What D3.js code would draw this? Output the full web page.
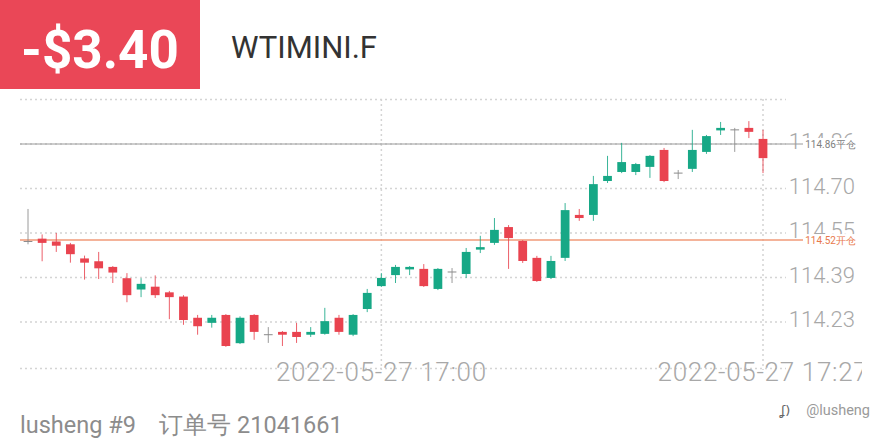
<!DOCTYPE html>
<html><head><meta charset="utf-8">
<script src="https://cdn.jsdelivr.net/npm/d3@7/dist/d3.min.js"></script>
<style>html,body{margin:0;padding:0;background:#fff;} svg{display:block;}</style>
</head><body><svg id="c" width="880" height="440"></svg>
<script>
// ---- data ----
const times = ["16:35","16:36","16:37","16:38","16:39","16:40","16:41","16:42","16:43","16:44",
  "16:45","16:46","16:47","16:48","16:49","16:50","16:51","16:52","16:53","16:54",
  "16:55","16:56","16:57","16:58","16:59","17:00","17:01","17:02","17:03","17:04",
  "17:05","17:06","17:07","17:08","17:09","17:10","17:11","17:12","17:13","17:14",
  "17:15","17:16","17:17","17:18","17:19","17:20","17:21","17:22","17:23","17:24",
  "17:25","17:26","17:27"];
const opens  = [114.515,114.525,114.515,114.505,114.455,114.445,114.425,114.385,114.345,114.355,
  114.335,114.320,114.245,114.227,114.255,114.155,114.255,114.185,114.195,114.195,
  114.185,114.188,114.245,114.185,114.276,114.357,114.396,114.418,114.418,114.347,
  114.407,114.400,114.488,114.510,114.566,114.517,114.457,114.386,114.457,114.609,
  114.609,114.729,114.761,114.761,114.779,114.839,114.757,114.772,114.832,114.910,
  114.910,114.917,114.878];
const highs  = [114.630,114.540,114.545,114.510,114.465,114.478,114.428,114.403,114.385,114.395,
  114.340,114.325,114.255,114.255,114.258,114.250,114.258,114.212,114.198,114.227,
  114.212,114.280,114.255,114.258,114.347,114.403,114.432,114.428,114.435,114.421,
  114.421,114.492,114.535,114.598,114.573,114.520,114.464,114.464,114.651,114.630,
  114.747,114.818,114.864,114.793,114.821,114.846,114.768,114.910,114.892,114.938,
  114.917,114.941,114.910];
const lows   = [114.505,114.445,114.478,114.440,114.380,114.382,114.368,114.300,114.318,114.315,
  114.240,114.220,114.185,114.210,114.142,114.152,114.167,114.156,114.145,114.156,
  114.177,114.185,114.185,114.180,114.265,114.354,114.368,114.396,114.354,114.343,
  114.368,114.386,114.474,114.503,114.418,114.439,114.372,114.382,114.446,114.588,
  114.588,114.722,114.757,114.750,114.740,114.725,114.736,114.761,114.825,114.892,
  114.832,114.881,114.757];
const closes = [114.515,114.510,114.500,114.470,114.440,114.420,114.405,114.325,114.365,114.325,
  114.318,114.237,114.215,114.245,114.145,114.245,114.195,114.185,114.185,114.177,
  114.195,114.233,114.195,114.255,114.333,114.386,114.425,114.425,114.357,114.418,
  114.407,114.478,114.495,114.556,114.527,114.446,114.375,114.446,114.626,114.598,
  114.718,114.747,114.796,114.789,114.818,114.729,114.757,114.839,114.888,114.917,
  114.910,114.903,114.810];
const gridValues = [115.0175,114.86,114.7025,114.545,114.3875,114.23,114.065];
const gridLabels = ["","114.86","114.70","114.55","114.39","114.23",""];
const xTickTimes = ["17:00","17:27"];
const xTickLabels = ["2022-05-27 17:00","2022-05-27 17:27"];
const closePrice = 114.86, closeTag = "114.86平仓";
const openPrice = 114.52, openTag = "114.52开仓";
const pnlText = "-$3.40", symbol = "WTIMINI.F";
const footer = "lusheng #9    订单号 21041661", watermark = "@lusheng";

// ---- drawing ----
const RED = "#e9434f", GREEN = "#17a886", GRAY = "#8a8a8a";
const svg = d3.select("#c");
const x = d3.scalePoint().domain(times).range([28, 763]);
const y = d3.scaleLinear().domain([114.0725, 115.0175]).range([366.5, 99.5]);
const bodyW = x.step() * 0.62;

// header
svg.append("rect").attr("x",0).attr("y",0).attr("width",200).attr("height",89).attr("fill","#ea4757");
svg.append("text").attr("x",100).attr("y",68).attr("text-anchor","middle")
  .attr("font-family","Roboto").attr("font-weight",700).attr("font-size",53).attr("fill","#fff").text(pnlText);
svg.append("text").attr("x",231).attr("y",58)
  .attr("font-family","Roboto").attr("font-size",31).attr("fill","#333").text(symbol);

// grid
const grid = svg.append("g").attr("stroke","#d4d4d4").attr("stroke-width",1.5).attr("stroke-dasharray","2,3");
grid.selectAll("line.h").data(gridValues).join("line").attr("class","h")
  .attr("x1",20).attr("x2",786).attr("y1",d=>y(d)).attr("y2",d=>y(d));
grid.selectAll("line.v").data(xTickTimes).join("line").attr("class","v")
  .attr("x1",d=>x(d)).attr("x2",d=>x(d)).attr("y1",99).attr("y2",370);

// y labels
svg.append("g").selectAll("text").data(gridValues).join("text")
  .attr("x",855).attr("y",d=>y(d)+5).attr("text-anchor","end")
  .attr("font-family","Roboto").attr("font-weight",300).attr("font-size",22).attr("fill","#a8a8a8")
  .text((d,i)=>gridLabels[i]);

// x labels (clipped at right)
svg.append("clipPath").attr("id","xclip").append("rect").attr("x",0).attr("y",340).attr("width",862).attr("height",60);
svg.append("g").attr("clip-path","url(#xclip)").selectAll("text").data(xTickTimes).join("text")
  .attr("x",d=>x(d)).attr("y",381).attr("text-anchor","middle")
  .attr("font-family","Roboto").attr("font-weight",300).attr("font-size",26).attr("letter-spacing",0.7).attr("fill","#a8a8a8")
  .text((d,i)=>xTickLabels[i]);

// position lines
svg.append("line").attr("x1",20).attr("x2",803).attr("y1",y(closePrice)).attr("y2",y(closePrice))
  .attr("stroke","#9a9a9a").attr("stroke-width",1);
svg.append("line").attr("x1",20).attr("x2",803).attr("y1",y(openPrice)).attr("y2",y(openPrice))
  .attr("stroke","#f09a78").attr("stroke-width",1.5);
[[closePrice, closeTag, "#808080"],[openPrice, openTag, "#e8794c"]].forEach(([v,t,c])=>{
  svg.append("rect").attr("x",804).attr("y",y(v)-6).attr("width",54).attr("height",13).attr("fill","#fff");
  svg.append("text").attr("x",856).attr("y",y(v)+4).attr("text-anchor","end")
    .attr("font-family","Roboto").attr("font-size",10).attr("fill",c).text(t);
});

// candles
const idx = d3.range(times.length);
const color = i => closes[i] > opens[i] ? GREEN : (closes[i] < opens[i] ? RED : GRAY);
const cg = svg.append("g");
cg.selectAll("line.w").data(idx).join("line").attr("class","w")
  .attr("x1",i=>x(times[i])).attr("x2",i=>x(times[i]))
  .attr("y1",i=>y(highs[i])).attr("y2",i=>y(lows[i]))
  .attr("stroke",color).attr("stroke-width",1).attr("stroke-opacity",0.85);
cg.selectAll("rect.b").data(idx.filter(i=>opens[i]!==closes[i])).join("rect").attr("class","b")
  .attr("x",i=>x(times[i])-bodyW/2).attr("width",bodyW)
  .attr("y",i=>y(Math.max(opens[i],closes[i])))
  .attr("height",i=>Math.max(2.5, Math.abs(y(opens[i])-y(closes[i]))))
  .attr("fill",color);
cg.selectAll("line.d").data(idx.filter(i=>opens[i]===closes[i])).join("line").attr("class","d")
  .attr("x1",i=>x(times[i])-bodyW/2).attr("x2",i=>x(times[i])+bodyW/2)
  .attr("y1",i=>y(opens[i])).attr("y2",i=>y(opens[i]))
  .attr("stroke",GRAY).attr("stroke-width",1);

// footer
svg.append("text").attr("x",20).attr("y",433)
  .attr("font-family","Roboto").attr("font-size",23.5).attr("fill","#8c8c8c").attr("xml:space","preserve")
  .style("white-space","pre").text(footer);
svg.append("text").attr("x",870).attr("y",415).attr("text-anchor","end")
  .attr("font-family","Roboto").attr("font-size",14.5).attr("fill","#9a9a9a").text(watermark);
svg.append("text").attr("x",781).attr("y",415)
  .attr("font-family","DejaVu Sans").attr("font-size",13).attr("fill","#666").text("ʆ)");
</script></body></html>
